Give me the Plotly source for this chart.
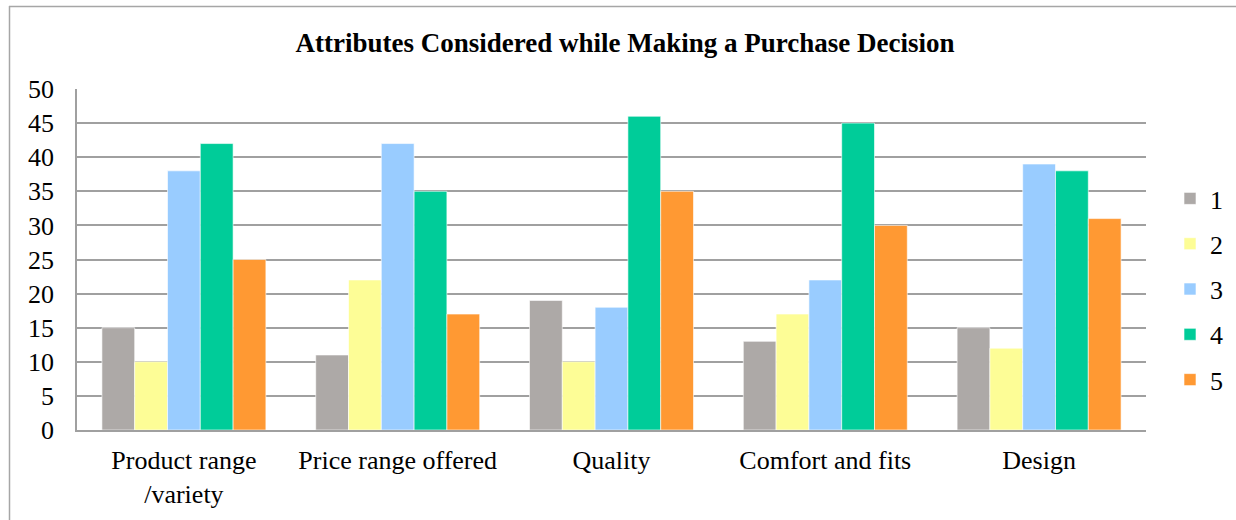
import plotly.graph_objects as go

categories = ["Product range<br>/variety", "Price range offered", "Quality", "Comfort and fits", "Design"]
series_names = ["1", "2", "3", "4", "5"]
s1 = [15, 11, 19, 13, 15]
s2 = [10, 22, 10, 17, 12]
s3 = [38, 42, 18, 22, 39]
s4 = [42, 35, 46, 45, 38]
s5 = [25, 17, 35, 30, 31]
colors = ["#ADA9A7", "#FDFD96", "#99CCFF", "#00CC99", "#FF9933"]

fig = go.Figure()
for i, (name, vals) in enumerate(zip(series_names, [s1, s2, s3, s4, s5])):
    fig.add_trace(go.Bar(
        x=categories, y=vals, name=name, legendgroup=name,
        marker=dict(color=colors[i], line=dict(color="rgba(255,255,255,0.6)", width=1)),
    ))

W, H = 1236, 520
L, R, T, B = 77, 90, 89, 90
pw, ph = W - L - R, H - T - B

def px_x(px):
    return (px - L) / pw

def px_y(py):
    return (H - B - py) / ph

serif = "Liberation Serif, Times New Roman, serif"
FS = 26
fig.update_layout(
    width=W, height=H,
    margin=dict(l=L, r=R, t=T, b=B, autoexpand=False),
    paper_bgcolor="white", plot_bgcolor="white",
    barmode="group", bargap=0.233, bargroupgap=0,
    title=dict(text="<b>Attributes Considered while Making a Purchase Decision</b>",
               x=px_x(625), xref="paper", xanchor="center",
               y=(H - 43) / H, yanchor="middle",
               font=dict(family=serif, size=27, color="black")),
    font=dict(family=serif, size=FS, color="black"),
    showlegend=True,
    legend=dict(x=px_x(1170), xanchor="left", y=px_y(175), yanchor="top",
                font=dict(family=serif, size=FS, color="black"),
                tracegroupgap=8.5, itemwidth=30, bgcolor="rgba(0,0,0,0)",
                traceorder="grouped"),
    xaxis=dict(showgrid=False, showline=True, linecolor="#A0A0A0", linewidth=2,
               ticks="", tickfont=dict(family=serif, size=FS, color="black"),
               ticklabelstandoff=6, fixedrange=True),
    yaxis=dict(range=[0, 50], dtick=5, showgrid=True, gridcolor="#A0A0A0", gridwidth=1.5,
               showline=True, linecolor="#A0A0A0", linewidth=1.5, ticks="",
               zeroline=False, ticklabelstandoff=16,
               tickfont=dict(family=serif, size=FS, color="black"), fixedrange=True),
    shapes=[
        dict(type="line", xref="paper", yref="paper", x0=px_x(9), x1=px_x(1240),
             y0=px_y(6.5), y1=px_y(6.5), line=dict(color="#A6A6A6", width=1.5)),
        dict(type="line", xref="paper", yref="paper", x0=px_x(9.5), x1=px_x(9.5),
             y0=px_y(6), y1=px_y(530), line=dict(color="#A6A6A6", width=1.5)),
    ],
)

fig.write_html("out.html")
